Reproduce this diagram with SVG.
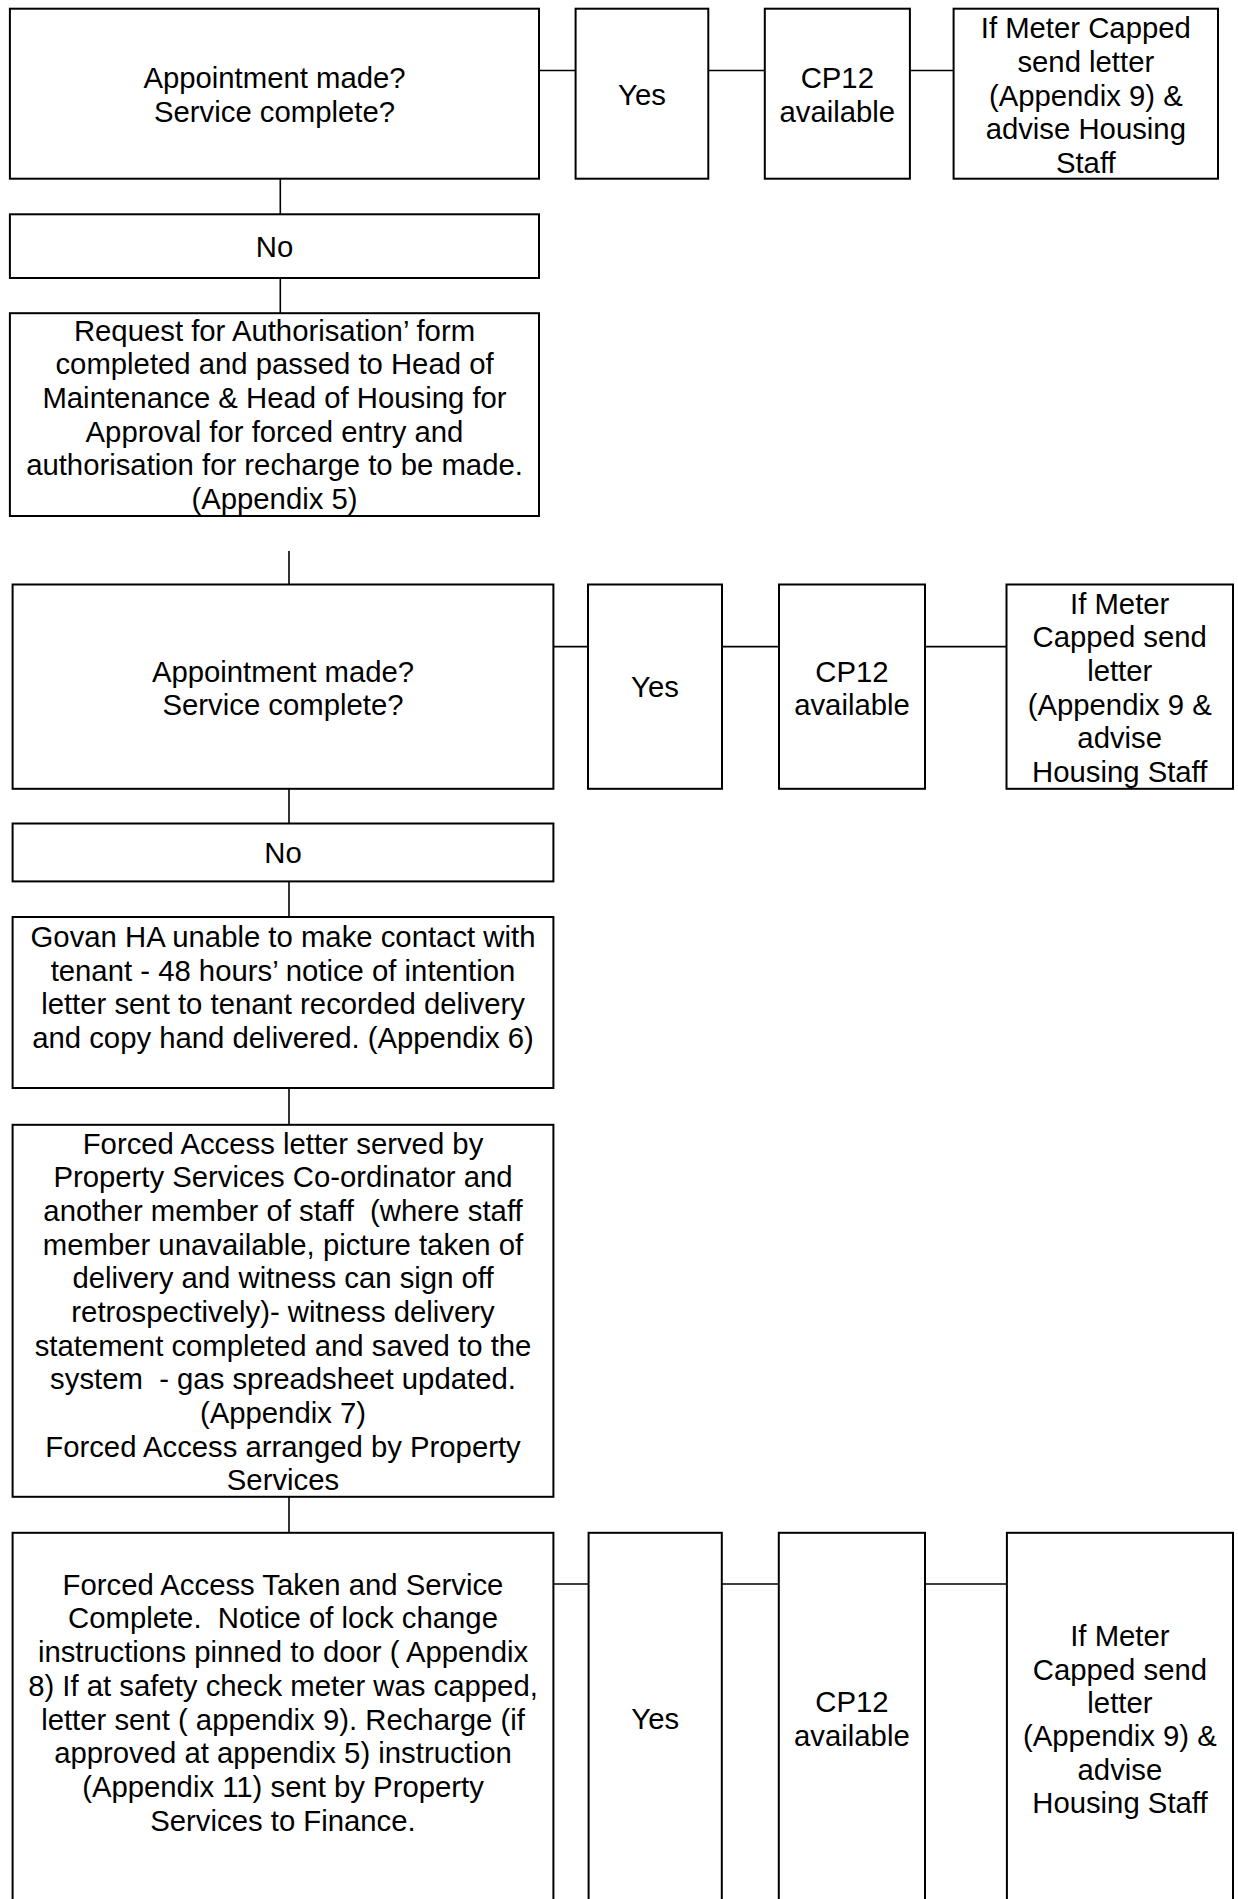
<svg xmlns="http://www.w3.org/2000/svg" width="1238" height="1899" viewBox="0 0 1238 1899">
<style>
.box{fill:#fff;stroke:#000;stroke-width:2}
.con line{stroke:#000;stroke-width:1.6}
text{font-family:"Liberation Sans",Arial,sans-serif;font-size:29.3px;fill:#000;text-anchor:middle;white-space:pre}
</style>
<rect width="1238" height="1899" fill="#fff"/>
<g id="connectors" class="con">
<line x1="539" y1="70.5" x2="575.6" y2="70.5"/>
<line x1="708.3" y1="70.5" x2="764.8" y2="70.5"/>
<line x1="909.9" y1="70.5" x2="953.6" y2="70.5"/>
<line x1="280.3" y1="178.7" x2="280.3" y2="214.3"/>
<line x1="280.3" y1="278" x2="280.3" y2="313.2"/>
<line x1="289" y1="551" x2="289" y2="584.5"/>
<line x1="553.4" y1="646.6" x2="588" y2="646.6"/>
<line x1="722" y1="646.6" x2="779" y2="646.6"/>
<line x1="925" y1="646.6" x2="1006.5" y2="646.6"/>
<line x1="289" y1="788.8" x2="289" y2="823.5"/>
<line x1="289" y1="881.4" x2="289" y2="917"/>
<line x1="289" y1="1088" x2="289" y2="1124.8"/>
<line x1="289" y1="1496.8" x2="289" y2="1532.8"/>
<line x1="553.4" y1="1584" x2="588.6" y2="1584"/>
<line x1="721.8" y1="1584" x2="778.8" y2="1584"/>
<line x1="925" y1="1584" x2="1006.9" y2="1584"/>
</g>
<g id="appt1"><rect class="box" x="9.9" y="8.7" width="529.1" height="170"/>
<text><tspan x="274.5" y="87.5">Appointment made?</tspan><tspan x="274.5" y="122">Service complete?</tspan></text></g>
<g id="yes1"><rect class="box" x="575.6" y="8.7" width="132.7" height="170"/>
<text><tspan x="642" y="105">Yes</tspan></text></g>
<g id="cp12_1"><rect class="box" x="764.8" y="8.7" width="145.1" height="170"/>
<text><tspan x="837.3" y="87.5">CP12</tspan><tspan x="837.3" y="121.8">available</tspan></text></g>
<g id="meter1"><rect class="box" x="953.6" y="8.7" width="264.4" height="170"/>
<text><tspan x="1085.8" y="38.1">If Meter Capped</tspan><tspan x="1085.8" y="71.8">send letter</tspan><tspan x="1085.8" y="105.5">(Appendix 9) &amp;</tspan><tspan x="1085.8" y="139.2">advise Housing</tspan><tspan x="1085.8" y="172.9">Staff</tspan></text></g>
<g id="no1"><rect class="box" x="9.9" y="214.3" width="529.1" height="63.7"/>
<text><tspan x="274.5" y="256.5">No</tspan></text></g>
<g id="request"><rect class="box" x="9.9" y="313.2" width="529.1" height="202.8"/>
<text><tspan x="274.5" y="340.5">Request for Authorisation’ form</tspan><tspan x="274.5" y="374.2">completed and passed to Head of</tspan><tspan x="274.5" y="407.9">Maintenance &amp; Head of Housing for</tspan><tspan x="274.5" y="441.6">Approval for forced entry and</tspan><tspan x="274.5" y="475.3">authorisation for recharge to be made.</tspan><tspan x="274.5" y="509">(Appendix 5)</tspan></text></g>
<g id="appt2"><rect class="box" x="12.6" y="584.5" width="540.8" height="204.3"/>
<text><tspan x="283" y="681.7">Appointment made?</tspan><tspan x="283" y="715">Service complete?</tspan></text></g>
<g id="yes2"><rect class="box" x="588" y="584.5" width="134" height="204.3"/>
<text><tspan x="655" y="697.4">Yes</tspan></text></g>
<g id="cp12_2"><rect class="box" x="779" y="584.5" width="146" height="204.3"/>
<text><tspan x="852" y="681.8">CP12</tspan><tspan x="852" y="714.5">available</tspan></text></g>
<g id="meter2"><rect class="box" x="1006.5" y="584.5" width="226.5" height="204.3"/>
<text><tspan x="1119.7" y="613.7">If Meter</tspan><tspan x="1119.7" y="647.3">Capped send</tspan><tspan x="1119.7" y="680.9">letter</tspan><tspan x="1119.7" y="714.5">(Appendix 9 &amp;</tspan><tspan x="1119.7" y="748.1">advise</tspan><tspan x="1119.7" y="781.7">Housing Staff</tspan></text></g>
<g id="no2"><rect class="box" x="12.6" y="823.5" width="540.8" height="57.9"/>
<text><tspan x="283" y="863">No</tspan></text></g>
<g id="govan"><rect class="box" x="12.6" y="917" width="540.8" height="171"/>
<text><tspan x="283" y="947">Govan HA unable to make contact with</tspan><tspan x="283" y="980.7">tenant - 48 hours’ notice of intention</tspan><tspan x="283" y="1014.4">letter sent to tenant recorded delivery</tspan><tspan x="283" y="1048.1">and copy hand delivered. (Appendix 6)</tspan></text></g>
<g id="forcedletter"><rect class="box" x="12.6" y="1124.8" width="540.8" height="372"/>
<text><tspan x="283" y="1153.6">Forced Access letter served by</tspan><tspan x="283" y="1187.3">Property Services Co-ordinator and</tspan><tspan x="283" y="1221">another member of staff  (where staff</tspan><tspan x="283" y="1254.6">member unavailable, picture taken of</tspan><tspan x="283" y="1288.3">delivery and witness can sign off</tspan><tspan x="283" y="1322">retrospectively)- witness delivery</tspan><tspan x="283" y="1355.7">statement completed and saved to the</tspan><tspan x="283" y="1389.4">system  - gas spreadsheet updated.</tspan><tspan x="283" y="1423">(Appendix 7)</tspan><tspan x="283" y="1456.7">Forced Access arranged by Property</tspan><tspan x="283" y="1490.4">Services</tspan></text></g>
<g id="final"><rect class="box" x="12.6" y="1532.8" width="540.8" height="380"/>
<text><tspan x="283" y="1594.6">Forced Access Taken and Service</tspan><tspan x="283" y="1628.3">Complete.  Notice of lock change</tspan><tspan x="283" y="1662">instructions pinned to door ( Appendix</tspan><tspan x="283" y="1695.8">8) If at safety check meter was capped,</tspan><tspan x="283" y="1729.5">letter sent ( appendix 9). Recharge (if</tspan><tspan x="283" y="1763.2">approved at appendix 5) instruction</tspan><tspan x="283" y="1796.9">(Appendix 11) sent by Property</tspan><tspan x="283" y="1830.7">Services to Finance.</tspan></text></g>
<g id="yes3"><rect class="box" x="588.6" y="1532.8" width="133.2" height="380"/>
<text><tspan x="655.2" y="1729.3">Yes</tspan></text></g>
<g id="cp12_3"><rect class="box" x="778.8" y="1532.8" width="146.2" height="380"/>
<text><tspan x="851.9" y="1712.1">CP12</tspan><tspan x="851.9" y="1745.8">available</tspan></text></g>
<g id="meter3"><rect class="box" x="1006.9" y="1532.8" width="226.1" height="380"/>
<text><tspan x="1119.9" y="1646.1">If Meter</tspan><tspan x="1119.9" y="1679.5">Capped send</tspan><tspan x="1119.9" y="1712.9">letter</tspan><tspan x="1119.9" y="1746.3">(Appendix 9) &amp;</tspan><tspan x="1119.9" y="1779.7">advise</tspan><tspan x="1119.9" y="1813.1">Housing Staff</tspan></text></g>
</svg>
